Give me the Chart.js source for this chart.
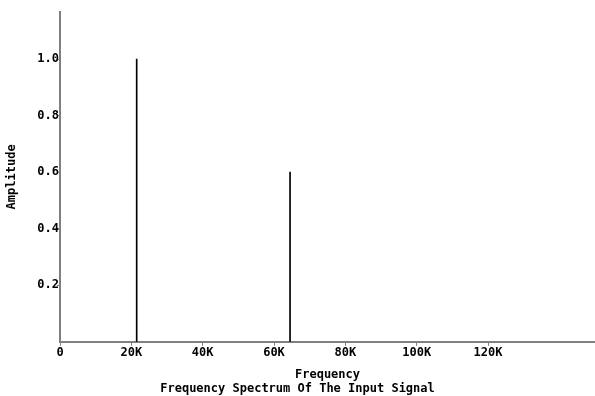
<!DOCTYPE html>
<html>
<head>
<meta charset="utf-8">
<script src="https://cdn.jsdelivr.net/npm/chart.js@4.4.1/dist/chart.umd.min.js"></script>
<style>
  html, body { margin: 0; padding: 0; background: #fff; }
  #wrap { width: 595px; height: 396px; }
</style>
</head>
<body>
<div id="wrap"><canvas id="chart" width="595" height="396"></canvas></div>
<script>
// spectrum lines (frequency in Hz, amplitude)
const spikeFreqs = [21500, 64500];
const spikeAmps = [1.0, 0.6];

const xTicks = [0, 20000, 40000, 60000, 80000, 100000, 120000];
const xTickLabels = ["0", "20K", "40K", "60K", "80K", "100K", "120K"];
const yTicks = [0.2, 0.4, 0.6, 0.8, 1.0];
const yTickLabels = ["0.2", "0.4", "0.6", "0.8", "1.0"];

Chart.defaults.font.family = "'DejaVu Sans Mono', monospace";
Chart.defaults.font.size = 12;
Chart.defaults.font.weight = "bold";
Chart.defaults.color = "#000";

const axisGray = "#808080";

const chart = new Chart(document.getElementById("chart"), {
  type: "bar",
  data: {
    datasets: [
      {
        label: "Amplitude",
        data: spikeFreqs.map((f, i) => ({ x: f, y: spikeAmps[i] })),
        backgroundColor: "#000",
        borderWidth: 0,
        barThickness: 1,
      },
    ],
  },
  options: {
    responsive: false,
    animation: false,
    devicePixelRatio: 1,
    layout: { padding: { top: 12, right: 0, left: 0, bottom: 0 } },
    scales: {
      x: {
        type: "linear",
        min: 0,
        max: 150000,
        offset: false,
        afterBuildTicks: (scale) => {
          scale.ticks = xTicks.map((v) => ({ value: v }));
        },
        ticks: {
          autoSkip: false,
          maxRotation: 0,
          padding: 0,
          callback: (value, index) => xTickLabels[index],
        },
        grid: {
          offset: false,
          drawOnChartArea: false,
          drawTicks: true,
          tickLength: 4,
          color: axisGray,
        },
        border: { display: true, color: axisGray, width: 2 },
        title: {
          display: true,
          text: "Frequency",
          padding: { top: 7, bottom: 0 },
        },
      },
      y: {
        min: 0,
        max: 1.1667,
        afterBuildTicks: (scale) => {
          scale.ticks = yTicks.map((v) => ({ value: v }));
        },
        afterFit: (scale) => {
          scale.width = 60;
        },
        ticks: {
          padding: -2,
          callback: (value, index) => yTickLabels[index],
        },
        grid: {
          offset: false,
          drawOnChartArea: false,
          drawTicks: true,
          tickLength: 3,
          color: axisGray,
        },
        border: { display: true, color: axisGray, width: 2 },
        title: {
          display: true,
          text: "Amplitude",
          padding: { top: 5, bottom: 0 },
        },
      },
    },
    plugins: {
      legend: { display: false },
      tooltip: { enabled: false },
      title: {
        display: true,
        position: "bottom",
        text: "Frequency Spectrum Of The Input Signal",
        padding: { top: 0, bottom: 0 },
        font: { size: 12, weight: "bold" },
      },
    },
  },
});
</script>
</body>
</html>
